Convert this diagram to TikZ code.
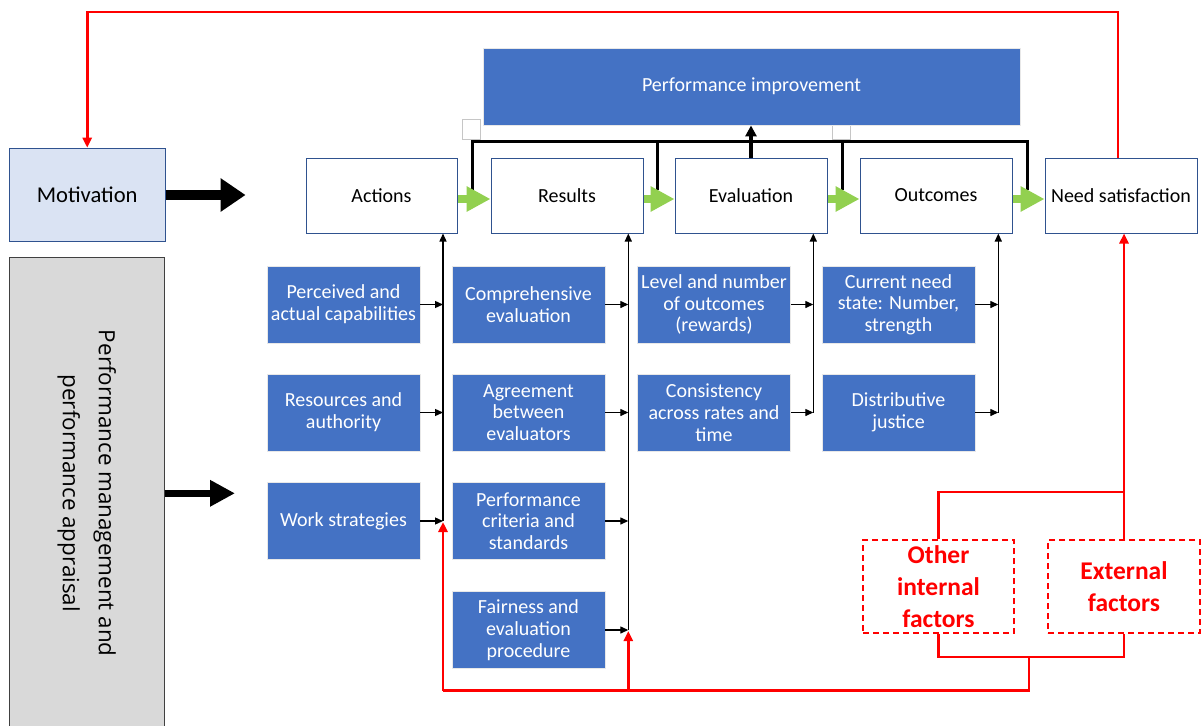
\documentclass[tikz,border=0pt]{standalone}
\usepackage{fontspec}
\setmainfont{Carlito}
\newfontfamily\osans{Open Sans}
\usetikzlibrary{arrows.meta}

\definecolor{boxblue}{HTML}{4472C4}
\definecolor{edgeblue}{HTML}{2F528F}
\definecolor{paleblue}{HTML}{DAE3F3}
\definecolor{panelgray}{HTML}{D9D9D9}
\definecolor{edgegray}{HTML}{404040}
\definecolor{flowgreen}{HTML}{92D050}
\definecolor{alertred}{HTML}{FF0000}

\tikzset{
  factorbox/.style={rectangle, fill=boxblue, draw=white!82!gray, line width=0.9pt,
    text=white, align=center, minimum width=153pt, minimum height=77pt,
    inner sep=1pt, font=\fontsize{20}{21.7}\selectfont},
  stagebox/.style={rectangle, fill=white, draw=edgeblue, line width=1pt,
    align=center, minimum width=152pt, minimum height=75pt, inner sep=1pt,
    font=\fontsize{20}{22}\selectfont},
  riskbox/.style={rectangle, draw=alertred, line width=1.8pt, dash pattern=on 6pt off 4pt,
    text=alertred, align=center, minimum width=151pt, minimum height=93pt,
    inner sep=1pt, font=\fontsize{25.5}{31.7}\selectfont\bfseries},
  handle/.style={rectangle, fill=white, draw=gray!45, line width=0.6pt,
    minimum width=18pt, minimum height=20pt, inner sep=0pt},
  thinarrow/.style={draw=black, line width=1.3pt, -{Triangle[length=8pt,width=7pt]}},
  redarrow/.style={draw=alertred, line width=2.6pt, -{Triangle[length=10pt,width=9pt]}},
  redline/.style={draw=alertred, line width=2.6pt},
  greenarrow/.style={draw=flowgreen, line width=8pt, -{Triangle[length=24pt,width=24pt]}},
  bracketline/.style={draw=black, line width=3.4pt},
}

\begin{document}
\begin{tikzpicture}[x=1pt,y=-1pt]
\useasboundingbox (0,0) rectangle (1203,726);
\clip (0,0) rectangle (1203,726);
\fill[white] (0,0) rectangle (1203,726);

% left-hand drivers
\node[rectangle, fill=paleblue, draw=edgeblue, line width=1pt,
      minimum width=155.7pt, minimum height=93.7pt,
      font=\fontsize{22.6}{26}\selectfont] (mot) at (87.2,195) {Motivation};
\node[rectangle, fill=panelgray, draw=edgegray, line width=1pt, rotate=-90,
      minimum width=472pt, minimum height=155pt, align=center,
      font=\osans\fontsize{22.4}{36}\selectfont] (pm) at (86.8,493.3)
      {Performance management and\\performance appraisal};

\draw[draw=black, line width=10pt, -{Triangle[length=25pt,width=32pt]}]
  (mot.east) -- ++(80,0) coordinate (motarrow);
\draw[draw=black, line width=7pt, -{Triangle[length=25pt,width=25pt]}]
  (pm.north) -- (235,493.3) coordinate (pmarrow);

% selection handles beneath the improvement box
\node[handle] (h1) at (471.3,129) {};
\node[handle] (h2) at (841.5,129) {};

\node[rectangle, fill=boxblue, draw=white!82!gray, line width=0.9pt, text=white,
      minimum width=537pt, minimum height=77pt,
      font=\fontsize{20}{22}\selectfont] (pi) at (751.5,86.5) {Performance improvement};

% main chain
\node[stagebox, minimum width=151pt] (act) at (381.5,195.5) {Actions};
\node[stagebox] (res) at (567,195.5) {Results};
\node[stagebox] (eva) at (751,195.5) {Evaluation};
\node[stagebox] (out) at (936,195.5) {Outcomes};
\node[stagebox] (need) at (1121,195.5) {Need satisfaction};

% feedback bracket to performance improvement
\coordinate (b1) at (472.5,141.7);
\coordinate (b2) at (657.5,141.7);
\coordinate (b3) at (842.5,141.7);
\coordinate (b4) at (1027.3,141.7);
\draw[bracketline] (b1 |- 0,190) -- (b1) -- (b4) -- (b4 |- 0,190);
\draw[bracketline] (b2) -- (b2 |- 0,190);
\draw[bracketline] (b3) -- (b3 |- 0,190);
\draw[draw=black, line width=3.4pt, -{Triangle[length=11pt,width=11pt]}]
  (eva.north) -- (eva.north |- pi.south);

\draw[greenarrow] ([yshift=-3.5pt]act.east) -- ([yshift=-3.5pt]res.west);
\draw[greenarrow] ([yshift=-3.5pt]res.east) -- ([yshift=-3.5pt]eva.west);
\draw[greenarrow] ([yshift=-3.5pt]eva.east) -- ([yshift=-3.5pt]out.west);
\draw[greenarrow] ([yshift=-3.5pt]out.east) -- ([yshift=-3.5pt]need.west);

% factor boxes
\node[factorbox] (pac) at (343.5,304.5) {Perceived and\\actual capabilities};
\node[factorbox] (rau) at (343.5,412.5) {Resources and\\authority};
\node[factorbox] (wst) at (343.5,521) {Work strategies};

\node[factorbox] (cev) at (528.5,304.5) {Comprehensive\\evaluation};
\node[factorbox] (agr) at (528.5,412.5) {Agreement\\between\\evaluators};
\node[factorbox] (pcs) at (528.5,521) {Performance\\criteria and\\standards};
\node[factorbox] (fep) at (528.5,630) {Fairness and\\evaluation\\procedure};

\node[factorbox] (lno) at (714,304.5) {Level and number\\of outcomes\\(rewards)};
\node[factorbox] (con) at (714,412.5) {Consistency\\across rates and\\time};

\node[factorbox] (cns) at (898.5,304.5) {Current need\\state: Number,\\strength};
\node[factorbox] (dju) at (898.5,412.5) {Distributive\\justice};

% collector lines
\coordinate (j1) at (443,521);
\coordinate (j2) at (628.3,630);
\coordinate (j3) at (813.3,412.5);
\coordinate (j4) at (998.3,412.5);

\draw[thinarrow] (j1) -- (j1 |- act.south);
\draw[thinarrow] (j2) -- (j2 |- res.south);
\draw[thinarrow] (j3) -- (j3 |- eva.south);
\draw[thinarrow] (j4) -- (j4 |- out.south);

\draw[thinarrow] (pac.east) -- (pac.east -| j1);
\draw[thinarrow] (rau.east) -- (rau.east -| j1);
\draw[thinarrow] (wst.east) -- (wst.east -| j1);
\draw[thinarrow] (cev.east) -- (cev.east -| j2);
\draw[thinarrow] (agr.east) -- (agr.east -| j2);
\draw[thinarrow] (pcs.east) -- (pcs.east -| j2);
\draw[thinarrow] (fep.east) -- (fep.east -| j2);
\draw[thinarrow] (lno.east) -- (lno.east -| j3);
\draw[thinarrow] (con.east) -- (con.east -| j3);
\draw[thinarrow] (cns.east) -- (cns.east -| j4);
\draw[thinarrow] (dju.east) -- (dju.east -| j4);

% other influences
\node[riskbox] (oth) at (938.5,586.5) {Other\\internal\\factors};
\node[riskbox, minimum width=152pt] (ext) at (1124,586.5) {External\\factors};

\coordinate (rtop) at (1124,492);
\coordinate (rjoin) at (1029,657);
\coordinate (rbase) at (1029,690.7);

\draw[redline] (oth.north) |- (rtop);
\draw[redarrow] (ext.north) -- (ext.north |- need.south);
\draw[redline] (oth.south) |- (rjoin) -| (ext.south);
\draw[redline] (rjoin) -- (rbase) -- (j1 |- rbase);
\draw[redarrow] (j1 |- rbase) -- ([yshift=-1pt]j1);
\draw[redarrow] (j2 |- rbase) -- ([yshift=-1pt]j2);

% loop back from need satisfaction to motivation
\draw[redarrow] ([xshift=-3pt]need.north) |- (mot.north |- 0,12) -- (mot.north);
\end{tikzpicture}
\end{document}
